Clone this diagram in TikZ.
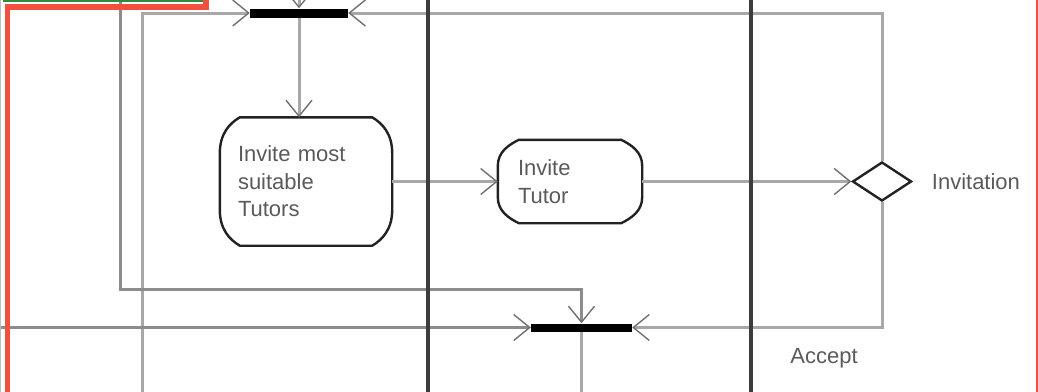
\documentclass[tikz,border=0pt]{standalone}
\usepackage{fontspec}
\setmainfont{Liberation Sans}
\usetikzlibrary{arrows.meta,shapes.geometric,positioning,calc}

\definecolor{flowgray}{HTML}{A8A8A8}
\definecolor{flowdark}{HTML}{8C8C8C}
\definecolor{tipgray}{HTML}{707070}
\definecolor{lanecol}{HTML}{3C3C3C}
\definecolor{actline}{HTML}{222222}
\definecolor{textcol}{HTML}{5A5A5A}
\definecolor{framered}{HTML}{F2503F}
\definecolor{framegreen}{HTML}{2E8B3C}

\begin{document}
\begin{tikzpicture}[x=1pt,y=-1pt,>={Straight Barb[length=16pt,width=26pt,line width=1.4pt,color=tipgray]},
    act/.style={rectangle,inner sep=0pt,align=left,text=textcol,font=\fontsize{22}{27.5}\selectfont},
    actborder/.style={draw=actline,line width=2.4pt,line join=round},
    bar/.style={rectangle,fill=black,inner sep=0pt},
    flow/.style={->,color=flowgray,line width=3pt},
    lane/.style={draw=lanecol,line width=3.5pt},
    lbl/.style={text=textcol,inner sep=0pt,font=\fontsize{22}{27.5}\selectfont},
    frame/.style={draw=framered,line width=5.5pt}]

            \useasboundingbox (0,0) rectangle (1038,391);
            \clip (0,0) rectangle (1038,391);

            \node[bar,minimum width=98pt,minimum height=9pt] (fork) at (299,13) {};
            \node[act,minimum width=172pt,minimum height=128pt,text width=136pt] (most) at (306,181.5) {Invite most\\suitable\\Tutors};
            \node[act,minimum width=144pt,minimum height=83pt,text width=104pt] (tutor) at (570,181.5) {Invite\\Tutor};
            \node[diamond,draw=actline,line width=2.4pt,minimum width=59pt,minimum height=39pt,inner sep=0pt] (dia) at (882,181.5) {};
            \node[lbl] (invit) [right=19pt of dia] {Invitation};
            \node[bar,minimum width=101pt,minimum height=8pt] (join) at (581.5,327.5) {};
            \node[lbl] (accept) at (824,358) {Accept};

            % action outlines
            \draw[actborder] ($(most.north west)+(20,0)$) -- ($(most.north east)+(-20,0)$)
                .. controls +(10,6) and +(0,-20) .. ($(most.north east)+(0,36)$) -- ($(most.south east)+(0,-36)$)
                .. controls +(0,20) and +(10,-6) .. ($(most.south east)+(-20,0)$) -- ($(most.south west)+(20,0)$)
                .. controls +(-10,-6) and +(0,20) .. ($(most.south west)+(0,-36)$) -- ($(most.north west)+(0,36)$)
                .. controls +(0,-20) and +(-10,6) .. cycle;
            \draw[actborder] ($(tutor.north west)+(21,0)$) -- ($(tutor.north east)+(-21,0)$)
                .. controls +(10,5) and +(0,-14) .. ($(tutor.north east)+(0,26)$) -- ($(tutor.south east)+(0,-26)$)
                .. controls +(0,14) and +(10,-5) .. ($(tutor.south east)+(-21,0)$) -- ($(tutor.south west)+(21,0)$)
                .. controls +(-10,-5) and +(0,14) .. ($(tutor.south west)+(0,-26)$) -- ($(tutor.north west)+(0,26)$)
                .. controls +(0,-14) and +(-10,5) .. cycle;

            \coordinate (inL) at (142,400);
            \coordinate (inTL) at (120,-10);
            \coordinate (inTop) at (299,-30);
            \coordinate (inBL) at (-10,327.5);
            \coordinate (outB) at (581.5,400);

            \draw[flow] (inL) |- (fork.west);
            \draw[flow,color=flowdark] (inTL) -- ++(0,299.5) -| (join.north);
            \draw[flow] (dia.north) |- (fork.east);
            \draw[flow] (dia.south) |- (join.east);

            \path[flow]
                (inTop) edge (fork.north)
                (fork.south) edge (most.north -| fork.south)
                (most) edge (tutor)
                (tutor) edge (dia)
                (inBL) edge[color=flowdark] (join.west)
                (join.south) edge[-] (outB)
            ;

            % swimlanes
            \draw[lane] (428,-5) -- (428,396);
            \draw[lane] (751,-5) -- (751,396);

            \draw[gray!50,line width=1pt] (0.5,-5) -- (0.5,396);
            \draw[draw=framegreen,line width=1.8pt] (3,0.8) -- (203,0.8);
            \draw[frame] (206,-10) |- (7.5,7) -- (7.5,400);
            \draw[frame,line width=4pt] (1037.5,-5) -- (1037.5,396);
        \end{tikzpicture}
\end{document}
